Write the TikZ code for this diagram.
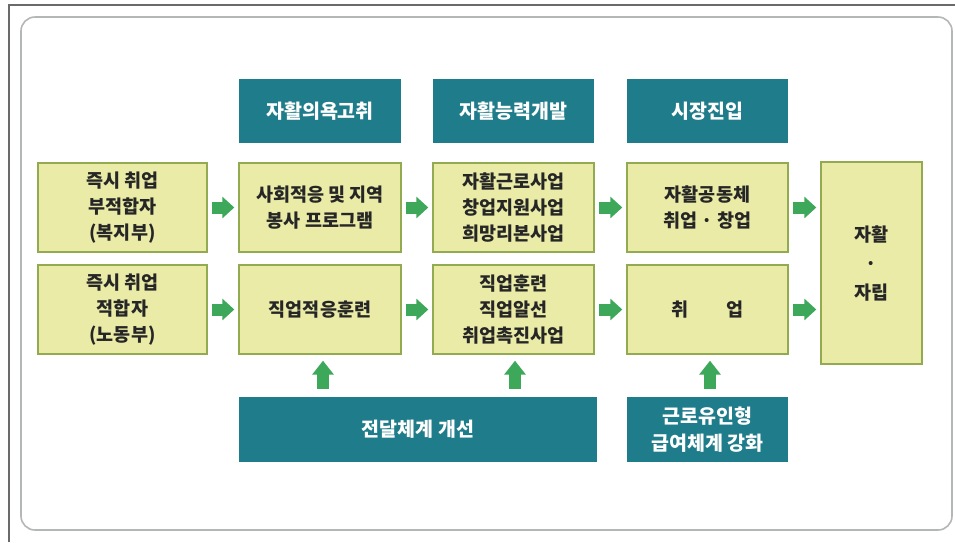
\documentclass[tikz,border=0pt]{standalone}
\usepackage{fontspec}
\setmainfont{Noto Sans CJK KR}
\usetikzlibrary{arrows.meta}
\definecolor{tealhd}{HTML}{1F7C8A}
\definecolor{ylfill}{HTML}{E9EBA6}
\definecolor{ylline}{HTML}{93AB50}
\definecolor{arrgreen}{HTML}{3DA85A}
\definecolor{framegray}{HTML}{6A6A6A}
\definecolor{roundgray}{HTML}{B4B8B4}
\tikzset{
  ybox/.style={draw=ylline, line width=1.4pt, fill=ylfill, inner sep=0pt, align=center,
    font=\fontsize{18.5}{26}\selectfont\bfseries, text=black!85},
  hbox/.style={fill=tealhd, inner sep=0pt, align=center,
    font=\fontsize{19.5}{27}\selectfont\bfseries, text=white},
  harrow/.style={arrgreen, line width=12pt, -{Triangle[length=12pt,width=21pt]},
    shorten <=4pt, shorten >=4pt},
  varrow/.style={arrgreen, line width=12pt, -{Triangle[length=14pt,width=21pt]},
    shorten <=8pt, shorten >=6pt},
}
\begin{document}
\begin{tikzpicture}[x=1pt,y=-1pt]
\useasboundingbox (0,0) rectangle (955,542);
\fill[white] (0,0) rectangle (955,542);
% outer frame lines
\draw[framegray, line width=1.3pt] (9,542) -- (9,5) -- (955,5);
% rounded panel
\draw[roundgray, line width=1.6pt, rounded corners=14pt] (21,17) rectangle (952,530);

% headers
\node[hbox, minimum width=162pt, minimum height=64pt] (h1) at (320,111) {자활의욕고취};
\node[hbox, minimum width=161pt, minimum height=64pt] (h2) at (513.5,111) {자활능력개발};
\node[hbox, minimum width=161pt, minimum height=64pt] (h3) at (707.5,111) {시장진입};

% row 1
\node[ybox, minimum width=169pt, minimum height=89pt] (a0) at (122.5,207.5) {즉시 취업\\부적합자\\(복지부)};
\node[ybox, minimum width=162pt, minimum height=89pt] (a1) at (320,207.5) {사회적응 및 지역\\봉사 프로그램};
\node[ybox, minimum width=161pt, minimum height=89pt] (a2) at (513.5,207.5) {자활근로사업\\창업지원사업\\희망리본사업};
\node[ybox, minimum width=161pt, minimum height=89pt] (a3) at (707.5,207.5) {자활공동체\\취업 · 창업};

% row 2
\node[ybox, minimum width=169pt, minimum height=89pt] (b0) at (122.5,309.5) {즉시 취업\\적합자\\(노동부)};
\node[ybox, minimum width=162pt, minimum height=89pt] (b1) at (320,309.5) {직업적응훈련};
\node[ybox, minimum width=161pt, minimum height=89pt] (b2) at (513.5,309.5) {직업훈련\\직업알선\\취업촉진사업};
\node[ybox, minimum width=161pt, minimum height=89pt] (b3) at (707.5,309.5) {취\hspace{2em}업};

% final
\node[ybox, minimum width=101pt, minimum height=202pt, font=\fontsize{18.5}{29}\selectfont\bfseries] (fin) at (871.5,263) {자활\\·\\자립};

% bottom boxes
\node[hbox, minimum width=358pt, minimum height=65pt] (d1) at (418,429.5) {전달체계 개선};
\node[hbox, minimum width=161pt, minimum height=65pt] (d2) at (707.5,429.5) {근로유인형\\급여체계 강화};

% horizontal arrows
\draw[harrow] (a0) -- (a1);
\draw[harrow] (a1) -- (a2);
\draw[harrow] (a2) -- (a3);
\draw[harrow] (a3.east) -- (fin.west |- a3.east);
\draw[harrow] (b0) -- (b1);
\draw[harrow] (b1) -- (b2);
\draw[harrow] (b2) -- (b3);
\draw[harrow] (b3.east) -- (fin.west |- b3.east);

% vertical arrows
\draw[varrow] ([xshift=3pt]b1.south |- d1.north) -- ([xshift=3pt]b1.south);
\draw[varrow] ([xshift=1.5pt]b2.south |- d1.north) -- ([xshift=1.5pt]b2.south);
\draw[varrow] ([xshift=2.5pt]d2.north) -- ([xshift=2.5pt]b3.south);
\end{tikzpicture}
\end{document}
